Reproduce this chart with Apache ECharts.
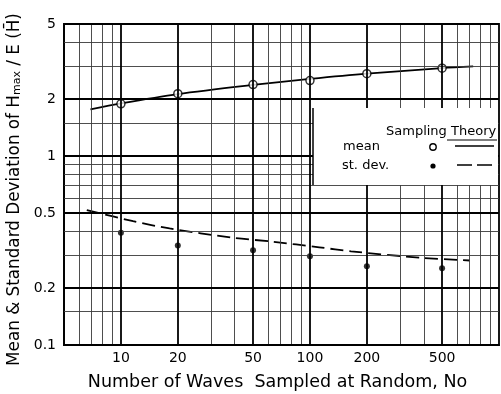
<!DOCTYPE html>
<html>
<head>
<meta charset="utf-8">
<script src="https://cdn.jsdelivr.net/npm/echarts@6/dist/echarts.min.js"></script>
<style>
html,body{margin:0;padding:0;background:#fff;}
#c{width:501px;height:394px;}
</style>
</head>
<body>
<div id="c"></div>
<script>
// ---- data ----
const xTickValues = [10, 20, 50, 100, 200, 500];
const xTickLabels = ['10', '20', '50', '100', '200', '500'];
const yTickValues = [0.1, 0.2, 0.5, 1, 2, 5];
const yTickLabels = ['0.1', '0.2', '0.5', '1', '2', '5'];
const xMinorGrid = [6, 7, 8, 9, 30, 40, 60, 70, 80, 90, 300, 400, 600, 700, 800, 900];
const yMinorGrid = [0.15, 0.3, 0.4, 0.6, 0.7, 0.8, 0.9, 1.5, 3, 4];

const sampledN = [10, 20, 50, 100, 200, 500];
const meanSampled = [1.89, 2.14, 2.39, 2.51, 2.73, 2.92];
const sdSampled = [0.393, 0.336, 0.317, 0.295, 0.261, 0.255];

const theoryMeanN = [6.9, 10, 20, 50, 100, 200, 500, 730];
const theoryMean = [1.765, 1.90, 2.13, 2.38, 2.56, 2.73, 2.92, 2.98];
const theorySdN = [6.6, 11.6, 18.1, 38.5, 63.8, 112, 165, 397, 700];
const theorySd = [0.518, 0.452, 0.414, 0.370, 0.352, 0.329, 0.313, 0.289, 0.280];

const xTitle = 'Number of Waves  Sampled at Random, No';
const legendHeader = ['Sampling', 'Theory'];
const legendRows = ['mean', 'st. dev.'];

// ---- chart ----
const FONT = 'DejaVu Sans';
const pairs = (xs, ys) => xs.map((x, i) => [x, ys[i]]);

const minorStyle = { color: '#3a3a3a', width: 0.9, type: 'solid' };
const majorStyle = { color: '#000', width: 1.8, type: 'solid' };

const gridLines = [];
xMinorGrid.forEach(v => gridLines.push({ xAxis: v, lineStyle: minorStyle, label: { show: false } }));
yMinorGrid.forEach(v => gridLines.push({ yAxis: v, lineStyle: minorStyle, label: { show: false } }));
xTickValues.forEach((v, i) => gridLines.push({
  xAxis: v, name: xTickLabels[i], lineStyle: majorStyle,
  label: { show: true, position: 'start', formatter: '{b}', distance: 6, color: '#000', fontSize: 14, fontFamily: FONT }
}));
yTickValues.forEach((v, i) => gridLines.push({
  yAxis: v, name: yTickLabels[i], lineStyle: majorStyle,
  label: { show: true, position: 'start', formatter: '{b}', distance: 8, color: '#000', fontSize: 14, fontFamily: FONT }
}));

const chart = echarts.init(document.getElementById('c'), null, { renderer: 'canvas' });

const option = {
  animation: false,
  backgroundColor: '#fff',
  grid: {
    left: 64, right: 2, top: 24, bottom: 49, containLabel: false, outerBoundsMode: 'none',
    show: true, borderColor: '#000', borderWidth: 1.8, backgroundColor: 'transparent'
  },
  xAxis: {
    type: 'log', logBase: 10, min: 5, max: 1000,
    axisLine: { show: true, lineStyle: { color: '#000', width: 1.8 } },
    axisTick: { show: false }, axisLabel: { show: false }, splitLine: { show: false },
    name: xTitle, nameLocation: 'middle', nameGap: 28,
    nameTextStyle: { color: '#000', fontSize: 17.5, fontFamily: FONT, padding: [0, 8, 0, 0] }
  },
  yAxis: {
    type: 'log', logBase: 10, min: 0.1, max: 5,
    axisLine: { show: true, lineStyle: { color: '#000', width: 1.8 } },
    axisTick: { show: false }, axisLabel: { show: false }, splitLine: { show: false },
    name: '{a|Mean & Standard Deviation of H}{s|max}{a| / E (H\u0304)}',
    nameLocation: 'middle', nameGap: 41, nameRotate: 90,
    nameTextStyle: {
      color: '#000', fontFamily: FONT, padding: [0, 10, 0, 0],
      rich: {
        a: { fontSize: 16.8, fontFamily: FONT, color: '#000' },
        s: { fontSize: 11, fontFamily: FONT, color: '#000', padding: [6, 0, 0, 0] }
      }
    }
  },
  series: [
    {
      type: 'line', data: [], silent: true, z: 1,
      markLine: { silent: true, symbol: ['none', 'none'], animation: false, data: gridLines }
    },
    {
      name: 'theory mean', type: 'line', data: pairs(theoryMeanN, theoryMean),
      smooth: 0.3, showSymbol: false, symbol: 'none',
      lineStyle: { color: '#000', width: 1.8 }, z: 3
    },
    {
      name: 'theory sd', type: 'line', data: pairs(theorySdN, theorySd),
      smooth: 0.3, showSymbol: false, symbol: 'none',
      lineStyle: { color: '#000', width: 1.8, type: [13, 6] }, z: 3
    },
    {
      name: 'mean', type: 'scatter', data: pairs(sampledN, meanSampled),
      symbol: 'circle', symbolSize: 8,
      itemStyle: { color: '#fff', borderColor: '#000', borderWidth: 1.5 }, z: 4
    },
    {
      name: 'st. dev.', type: 'scatter', data: pairs(sampledN, sdSampled),
      symbol: 'circle', symbolSize: 6,
      itemStyle: { color: '#000' }, z: 4
    }
  ],
  graphic: [
    { type: 'rect', z: 100, shape: { x: 313, y: 108, width: 185, height: 77 }, style: { fill: '#fff' } },
    { type: 'line', z: 101, shape: { x1: 313, y1: 108, x2: 313, y2: 185 }, style: { stroke: '#000', lineWidth: 1.5 } },
    { type: 'text', z: 101, x: 386, y: 132, style: { text: legendHeader[0], font: '13px "DejaVu Sans"', fill: '#000', verticalAlign: 'middle' } },
    { type: 'text', z: 101, x: 451, y: 132, style: { text: legendHeader[1], font: '13px "DejaVu Sans"', fill: '#000', verticalAlign: 'middle' } },
    { type: 'line', z: 101, shape: { x1: 447, y1: 140, x2: 497, y2: 140 }, style: { stroke: '#000', lineWidth: 1 } },
    { type: 'text', z: 101, x: 343, y: 147, style: { text: legendRows[0], font: '13px "DejaVu Sans"', fill: '#000', verticalAlign: 'middle' } },
    { type: 'text', z: 101, x: 342, y: 166, style: { text: legendRows[1], font: '13px "DejaVu Sans"', fill: '#000', verticalAlign: 'middle' } },
    { type: 'circle', z: 101, shape: { cx: 433, cy: 147, r: 3.2 }, style: { fill: '#fff', stroke: '#000', lineWidth: 1.4 } },
    { type: 'circle', z: 101, shape: { cx: 433, cy: 166, r: 2.6 }, style: { fill: '#000' } },
    { type: 'line', z: 101, shape: { x1: 455, y1: 146, x2: 494, y2: 146 }, style: { stroke: '#000', lineWidth: 1.6 } },
    { type: 'line', z: 101, shape: { x1: 457, y1: 165, x2: 494, y2: 165 }, style: { stroke: '#000', lineWidth: 1.6, lineDash: [15, 5] } }
  ]
};
chart.setOption(option);
</script>
</body>
</html>
